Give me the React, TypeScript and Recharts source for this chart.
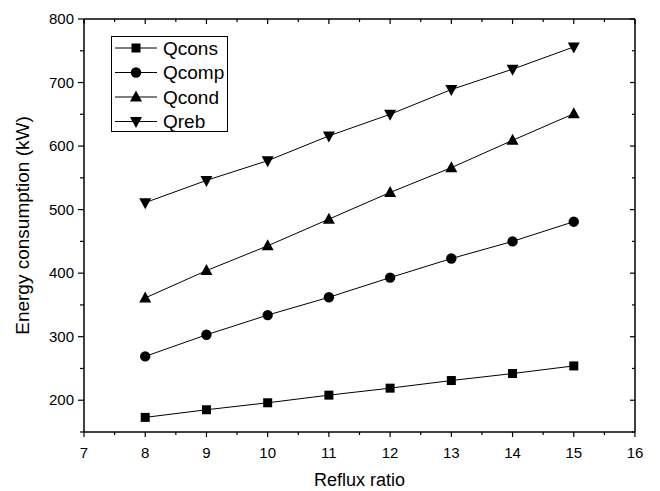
import React from "react";
import { LineChart, Line, XAxis, YAxis, Legend, Label } from "recharts";

const refluxRatio = [8, 9, 10, 11, 12, 13, 14, 15];
const qcons = [173, 185, 196, 208, 219, 231, 242, 254];
const qcomp = [269, 303, 334, 362, 393, 423, 450, 481];
const qcond = [361, 404, 443, 485, 527, 566, 609, 651];
const qreb = [511, 546, 577, 616, 650, 689, 721, 756];

const xTicks = [7, 7.5, 8, 8.5, 9, 9.5, 10, 10.5, 11, 11.5, 12, 12.5, 13, 13.5, 14, 14.5, 15, 15.5, 16];
const yTicks = [150, 200, 250, 300, 350, 400, 450, 500, 550, 600, 650, 700, 750, 800];

const data = refluxRatio.map((r, i) => ({
  r,
  Qcons: qcons[i],
  Qcomp: qcomp[i],
  Qcond: qcond[i],
  Qreb: qreb[i],
}));

type Shape = "square" | "circle" | "up" | "down";
const series: { key: string; shape: Shape }[] = [
  { key: "Qcons", shape: "square" },
  { key: "Qcomp", shape: "circle" },
  { key: "Qcond", shape: "up" },
  { key: "Qreb", shape: "down" },
];

const FONT = "Arial, 'Liberation Sans', sans-serif";

function Marker({ cx, cy, shape }: { cx: number; cy: number; shape: Shape }) {
  if (shape === "square") return <rect x={cx - 4.5} y={cy - 4.5} width={9} height={9} fill="#000" />;
  if (shape === "circle") return <circle cx={cx} cy={cy} r={5.2} fill="#000" />;
  if (shape === "up")
    return <polygon points={`${cx},${cy - 6.5} ${cx + 6},${cy + 4.5} ${cx - 6},${cy + 4.5}`} fill="#000" />;
  return <polygon points={`${cx},${cy + 6.5} ${cx + 6},${cy - 4.5} ${cx - 6},${cy - 4.5}`} fill="#000" />;
}

function makeDot(shape: Shape) {
  return (p: any) => <Marker key={p.key ?? `${shape}-${p.index}`} cx={p.cx} cy={p.cy} shape={shape} />;
}

// tick renderer: tickSize/tickMargin are 0, so x,y is the point on the axis line
function AxisTick(props: any) {
  const { x, y, payload, side } = props;
  const v = payload.value as number;
  const xAxis = side === "bottom" || side === "top";
  const major = xAxis ? Number.isInteger(v) : v % 100 === 0;
  const len = major ? 5 : 3;
  if (side === "bottom") {
    return (
      <g>
        <line x1={x} x2={x} y1={y} y2={y + len} stroke="#000" strokeWidth={1.2} />
        {major && (
          <text x={x} y={y + 26} textAnchor="middle" fontSize={15} fontFamily={FONT} fill="#000">
            {v}
          </text>
        )}
      </g>
    );
  }
  if (side === "top") {
    return <line x1={x} x2={x} y1={y} y2={y + len} stroke="#000" strokeWidth={1.2} />;
  }
  if (side === "left") {
    return (
      <g>
        <line x1={x - len - 1} x2={x} y1={y} y2={y} stroke="#000" strokeWidth={1.2} />
        {major && v >= 200 && (
          <text x={x - 10} y={y + 5} textAnchor="end" fontSize={15} fontFamily={FONT} fill="#000">
            {v}
          </text>
        )}
      </g>
    );
  }
  return <line x1={x - len} x2={x} y1={y} y2={y} stroke="#000" strokeWidth={1.2} />;
}

function LegendBox() {
  return (
    <svg width={118} height={97} style={{ display: "block" }}>
      <rect x={0.5} y={0.5} width={116} height={95} fill="#fff" stroke="#000" strokeWidth={1} />
      {series.map((s, i) => {
        const cy = 12 + i * 24.5;
        return (
          <g key={s.key}>
            <line x1={4} x2={46} y1={cy} y2={cy} stroke="#000" strokeWidth={1} />
            <Marker cx={25} cy={cy} shape={s.shape} />
            <text x={52} y={cy + 6.5} fontSize={19} fontFamily={FONT} fill="#000">
              {s.key}
            </text>
          </g>
        );
      })}
    </svg>
  );
}

export default function App() {
  return (
    <div style={{ position: "absolute", left: 0, top: 0, width: 660, height: 491, background: "#fff" }}>
      <LineChart width={660} height={491} data={data} margin={{ top: 18, right: 24, left: 24, bottom: 0 }}>
        <XAxis
          xAxisId="b"
          dataKey="r"
          type="number"
          domain={[7, 16]}
          ticks={xTicks}
          interval={0}
          height={59}
          tickSize={0}
          tickMargin={0}
          tickLine={false}
          axisLine={{ stroke: "#000", strokeWidth: 1.5 }}
          tick={<AxisTick side="bottom" />}
        >
          <Label
            content={({ viewBox }: any) => (
              <text
                x={viewBox.x + viewBox.width / 2}
                y={viewBox.y + 54}
                textAnchor="middle"
                fontSize={18}
                fontFamily={FONT}
                fill="#000"
              >
                Reflux ratio
              </text>
            )}
          />
        </XAxis>
        <XAxis
          xAxisId="t"
          dataKey="r"
          type="number"
          orientation="top"
          domain={[7, 16]}
          ticks={xTicks}
          interval={0}
          height={1}
          tickSize={0}
          tickMargin={0}
          tickLine={false}
          axisLine={{ stroke: "#000", strokeWidth: 1.5 }}
          tick={<AxisTick side="top" />}
        />
        <YAxis
          yAxisId="l"
          type="number"
          domain={[150, 800]}
          ticks={yTicks}
          interval={0}
          width={60}
          tickSize={0}
          tickMargin={0}
          tickLine={false}
          axisLine={{ stroke: "#000", strokeWidth: 1.5 }}
          tick={<AxisTick side="left" />}
        >
          <Label
            content={({ viewBox }: any) => {
              const cx = viewBox.x + 5;
              const cy = viewBox.y + viewBox.height / 2;
              return (
                <text
                  x={cx}
                  y={cy}
                  transform={`rotate(-90 ${cx} ${cy})`}
                  textAnchor="middle"
                  fontSize={19}
                  fontFamily={FONT}
                  fill="#000"
                >
                  Energy consumption (kW)
                </text>
              );
            }}
          />
        </YAxis>
        <YAxis
          yAxisId="r"
          orientation="right"
          type="number"
          domain={[150, 800]}
          ticks={yTicks}
          interval={0}
          width={1}
          tickSize={0}
          tickMargin={0}
          tickLine={false}
          axisLine={{ stroke: "#000", strokeWidth: 1.5 }}
          tick={<AxisTick side="right" />}
        />
        <Legend
          layout="vertical"
          align="center"
          verticalAlign="middle"
          content={() => <LegendBox />}
          wrapperStyle={{ left: 111, top: 36, width: 118, height: 97 }}
        />
        {/* invisible series so the mirrored top/right axes get a domain and draw their ticks */}
        <Line
          xAxisId="t"
          yAxisId="r"
          dataKey="Qcons"
          stroke="none"
          dot={false}
          activeDot={false}
          isAnimationActive={false}
          legendType="none"
        />
        {series.map((s) => (
          <Line
            key={s.key}
            xAxisId="b"
            yAxisId="l"
            dataKey={s.key}
            stroke="#000"
            strokeWidth={1}
            dot={makeDot(s.shape)}
            activeDot={false}
            isAnimationActive={false}
            legendType="none"
          />
        ))}
      </LineChart>
    </div>
  );
}
